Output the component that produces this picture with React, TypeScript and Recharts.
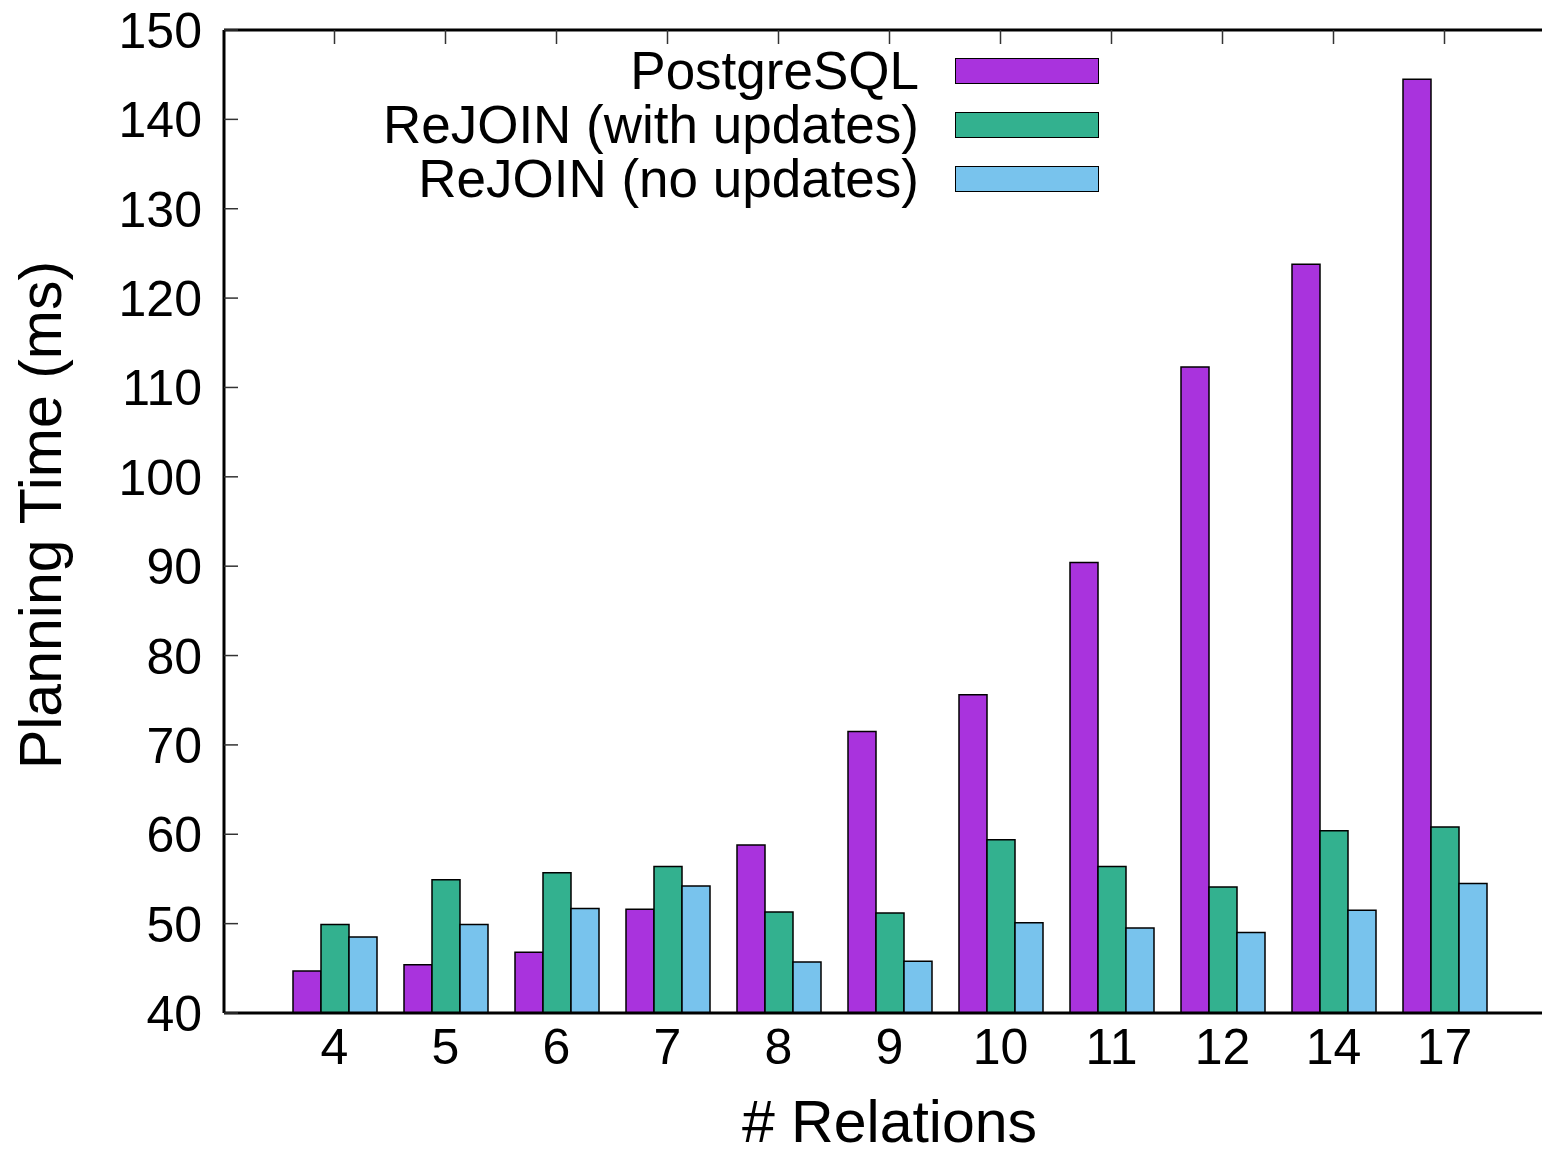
import React from "react";
import { BarChart, Bar, XAxis, YAxis, Legend } from "recharts";

// # relations per query
const relations = ["4", "5", "6", "7", "8", "9", "10", "11", "12", "14", "17"];
// planning time (ms)
const postgres = [44.7, 45.4, 46.8, 51.6, 58.8, 71.5, 75.6, 90.4, 112.3, 123.8, 144.5];
const rejoinWithUpdates = [49.9, 54.9, 55.7, 56.4, 51.3, 51.2, 59.4, 56.4, 54.1, 60.4, 60.8];
const rejoinNoUpdates = [48.5, 49.9, 51.7, 54.2, 45.7, 45.8, 50.1, 49.5, 49.0, 51.5, 54.5];
const yTicks = [40, 50, 60, 70, 80, 90, 100, 110, 120, 130, 140, 150];
const seriesNames = ["PostgreSQL", "ReJOIN (with updates)", "ReJOIN (no updates)"];

const FONT = "'Liberation Sans', Arial, Helvetica, sans-serif";
const TICK_LEN = 14;

const data = relations.map((r, i) => ({
  rel: r,
  pg: postgres[i],
  withUpd: rejoinWithUpdates[i],
  noUpd: rejoinNoUpdates[i],
}));

const LeftTick = (props: any) => {
  const { x, y, payload } = props;
  return (
    <g>
      <line x1={x} y1={y} x2={x + TICK_LEN} y2={y} stroke="#333" strokeWidth={1.5} />
      <text x={x - 22} y={y} dy="0.36em" textAnchor="end" fontSize={50} fontFamily={FONT} fill="#000">
        {payload.value}
      </text>
    </g>
  );
};

const RightTick = (props: any) => {
  const { x, y } = props;
  return <line x1={x} y1={y} x2={x - TICK_LEN} y2={y} stroke="#333" strokeWidth={1.5} />;
};

const TopTick = (props: any) => {
  const { x, y } = props;
  return <line x1={x} y1={y} x2={x} y2={y + TICK_LEN} stroke="#333" strokeWidth={1.5} />;
};

const BottomTick = (props: any) => {
  const { x, y, payload } = props;
  return (
    <text x={x} y={y + 51} textAnchor="middle" fontSize={50} fontFamily={FONT} fill="#000">
      {payload.value}
    </text>
  );
};

const renderLegend = (props: any) => {
  const items = [...(props.payload || [])].sort(
    (a: any, b: any) => seriesNames.indexOf(a.value) - seriesNames.indexOf(b.value)
  );
  return (
    <div style={{ fontFamily: FONT }}>
      {items.map((entry: any) => (
        <div key={entry.value} style={{ display: "flex", alignItems: "center", height: 54 }}>
          <span
            style={{
              width: 919,
              textAlign: "right",
              fontSize: 53,
              lineHeight: "54px",
              color: "#000",
              whiteSpace: "nowrap",
            }}
          >
            {entry.value}
          </span>
          <span
            style={{
              marginLeft: 36,
              width: 144,
              height: 26,
              boxSizing: "border-box",
              background: entry.color,
              border: "1.5px solid #000",
            }}
          />
        </div>
      ))}
    </div>
  );
};

export default function App() {
  return (
    <div
      style={{
        position: "relative",
        width: 1542,
        height: 1152,
        overflow: "hidden",
        background: "#fff",
        fontFamily: FONT,
      }}
    >
      <style>{"body{margin:0}"}</style>
      <BarChart
        width={1570}
        height={1152}
        data={data}
        margin={{ top: 29, right: 14, bottom: 138, left: 223 }}
        barGap={0}
        barSize={28}
      >
        <XAxis
          dataKey="rel"
          height={1}
          padding={{ left: 55, right: 55 }}
          interval={0}
          tickSize={0}
          tickMargin={0}
          tickLine={false}
          tick={<BottomTick />}
          axisLine={{ stroke: "#000", strokeWidth: 3 }}
        />
        <XAxis
          xAxisId="top"
          orientation="top"
          dataKey="rel"
          height={1}
          padding={{ left: 55, right: 55 }}
          interval={0}
          tickSize={0}
          tickMargin={0}
          tickLine={false}
          tick={<TopTick />}
          axisLine={{ stroke: "#000", strokeWidth: 3 }}
        />
        <YAxis
          width={1}
          domain={[40, 150]}
          ticks={yTicks}
          interval={0}
          tickSize={0}
          tickMargin={0}
          tickLine={false}
          tick={<LeftTick />}
          axisLine={{ stroke: "#000", strokeWidth: 3 }}
        />
        <YAxis
          yAxisId="right"
          orientation="right"
          width={1}
          domain={[40, 150]}
          ticks={yTicks}
          interval={0}
          tickSize={0}
          tickMargin={0}
          tickLine={false}
          tick={<RightTick />}
          axisLine={{ stroke: "#000", strokeWidth: 3 }}
        />
        <Legend
          layout="vertical"
          align="center"
          verticalAlign="middle"
          content={renderLegend}
          wrapperStyle={{ top: 44, left: 0, width: 1110 }}
        />
        <Bar dataKey="pg" name="PostgreSQL" fill="#a933dd" stroke="#000" strokeWidth={1.5} isAnimationActive={false} />
        <Bar dataKey="withUpd" name="ReJOIN (with updates)" fill="#33b18f" stroke="#000" strokeWidth={1.5} isAnimationActive={false} />
        <Bar dataKey="noUpd" name="ReJOIN (no updates)" fill="#78c3ed" stroke="#000" strokeWidth={1.5} isAnimationActive={false} />
      </BarChart>
      <div
        style={{
          position: "absolute",
          left: 41,
          top: 515,
          transform: "translate(-50%, -50%) rotate(-90deg)",
          whiteSpace: "nowrap",
          fontSize: 59,
          lineHeight: 1,
          color: "#000",
        }}
      >
        Planning Time (ms)
      </div>
      <div
        style={{
          position: "absolute",
          left: 889.5,
          top: 1096,
          transform: "translateX(-50%)",
          whiteSpace: "nowrap",
          fontSize: 59,
          lineHeight: 0.9,
          color: "#000",
        }}
      >
        # Relations
      </div>
    </div>
  );
}
